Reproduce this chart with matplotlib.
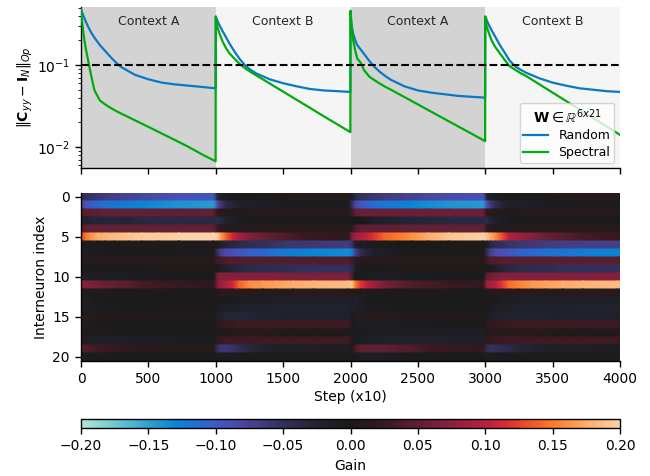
import numpy as np
import matplotlib
matplotlib.use('Agg')
import matplotlib.pyplot as plt
from matplotlib.colors import LinearSegmentedColormap

# line samples, offsets in steps from the start of each context
line_offsets = [0, 10, 20, 35, 50, 75, 100, 140, 180, 220, 260, 300, 400, 500, 600, 700, 800, 900, 999]
random_vals = [
    [.48, .43, .39, .34, .30, .25, .215, .175, .148, .125, .107, .094, .076, .067, .061, .058, .056, .054, .052],
    [.39, .355, .325, .29, .26, .22, .185, .145, .117, .098, .087, .079, .067, .060, .055, .051, .049, .048, .047],
    [.38, .29, .24, .20, .175, .155, .137, .112, .094, .082, .073, .066, .055, .049, .046, .044, .042, .041, .040],
    [.39, .355, .325, .29, .26, .22, .185, .145, .114, .097, .088, .081, .069, .061, .056, .052, .050, .048, .047],
]
spectral_vals = [
    [.45, .32, .23, .16, .12, .075, .049, .037, .033, .030, .0275, .0255, .0212, .0176, .0146, .0121, .0100, .0081, .0067],
    [.39, .30, .265, .225, .195, .162, .14, .119, .102, .091, .082, .075, .0596, .0474, .0377, .030, .0238, .019, .0152],
    [.46, .28, .20, .15, .12, .107, .087, .072, .065, .059, .054, .050, .0407, .0331, .0269, .0219, .0178, .0145, .0118],
    [.39, .30, .265, .225, .195, .165, .145, .118, .097, .088, .080, .074, .0584, .0461, .0364, .0287, .0227, .0179, .0141],
]

context_names = ['Context A', 'Context B', 'Context A', 'Context B']
context_starts = [0, 1000, 2000, 3000]
context_len = 1000

# gain per interneuron (rows) at these offsets inside each context (columns)
gain_offsets = [12, 37, 75, 125, 175, 250, 350, 450, 575, 725, 985]
gains_a1 = [
    [-.045, -.05, -.055, -.06, -.065, -.07, -.075, -.08, -.085, -.09, -.095],
    [-.08, -.09, -.10, -.11, -.115, -.12, -.125, -.13, -.135, -.14, -.145],
    [.04, .045, .045, .05, .05, .05, .05, .05, .05, .05, .05],
    [-.025, -.025, -.03, -.03, -.03, -.03, -.03, -.035, -.035, -.035, -.035],
    [.045, .05, .05, .05, .05, .05, .05, .05, .05, .05, .05],
    [.13, .15, .165, .175, .18, .185, .19, .195, .195, .2, .2],
    [.005, .005, .005, .005, .005, .005, .005, .005, .005, .005, .005],
    [-.01, -.01, -.01, -.008, -.005, 0, 0, .002, .003, .004, .005],
    [.01, .012, .012, .012, .012, .012, .012, .01, .01, .01, .01],
    [-.005, -.005, -.004, -.003, -.002, 0, .002, .004, .006, .008, .008],
    [-.012, -.012, -.012, -.012, -.01, -.01, -.01, -.008, -.005, -.002, 0],
    [.075, .07, .065, .06, .055, .05, .045, .035, .03, .025, .02],
    [.005, .005, .005, .005, .004, .004, .004, .003, .003, .003, .003],
    [-.015, -.012, -.01, -.006, -.005, -.004, -.003, -.002, -.002, -.002, -.002],
    [-.01, -.01, -.01, -.008, -.006, -.005, -.004, -.003, -.002, -.002, -.002],
    [.012, .012, .01, .01, .008, .008, .006, .006, .005, .005, .005],
    [-.012, -.01, -.006, -.004, -.003, -.002, -.002, -.002, -.002, -.002, -.002],
    [.005, .005, .005, .004, .004, .004, .003, .003, .003, .003, .003],
    [-.008, -.01, -.015, -.018, -.02, -.018, -.015, -.012, -.012, -.01, -.008],
    [.04, .04, .035, .03, .03, .025, .02, .015, .012, .01, .01],
    [-.01, -.01, -.008, -.006, -.005, -.004, -.003, -.003, -.002, -.002, -.002],
]
gains_b1 = [
    [-.03, -.015, -.008, -.004, -.002, .002, .004, .006, .008, .01, .012],
    [-.085, -.06, -.04, -.03, -.022, -.016, -.012, -.01, -.008, -.006, -.005],
    [.02, .015, .01, .008, .008, .01, .012, .012, .012, .012, .012],
    [-.04, -.035, -.025, -.015, -.008, -.003, 0, .002, .003, .003, .003],
    [.03, .02, .012, .01, .01, .01, .012, .012, .012, .012, .012],
    [.195, .17, .14, .11, .09, .07, .055, .045, .035, .025, .018],
    [-.01, -.02, -.03, -.035, -.04, -.045, -.05, -.055, -.06, -.062, -.065],
    [-.05, -.07, -.085, -.09, -.095, -.105, -.11, -.12, -.125, -.13, -.135],
    [.03, .035, .04, .04, .04, .04, .04, .04, .04, .04, .04],
    [-.005, -.015, -.025, -.03, -.035, -.04, -.042, -.045, -.048, -.05, -.05],
    [.06, .07, .07, .07, .07, .07, .07, .07, .065, .065, .065],
    [.065, .085, .095, .11, .14, .16, .165, .17, .175, .18, .185],
    [.01, .01, .012, .012, .012, .012, .01, .01, .01, .012, .012],
    [.005, .004, 0, -.005, -.01, -.012, -.012, -.015, -.015, -.015, -.018],
    [-.01, -.012, -.015, -.018, -.02, -.022, -.022, -.025, -.025, -.025, -.025],
    [-.02, -.025, -.03, -.03, -.03, -.03, -.025, -.025, -.022, -.02, -.02],
    [.015, .02, .025, .028, .03, .03, .03, .03, .03, .03, .03],
    [.005, .006, .008, .01, .012, .012, .01, .008, .006, .006, .005],
    [.02, .025, .03, .03, .03, .03, .03, .03, .03, .03, .03],
    [-.05, -.06, -.06, -.055, -.045, -.035, -.025, -.018, -.014, -.012, -.01],
    [-.005, -.005, -.006, -.006, -.006, -.006, -.005, -.005, -.005, -.005, -.005],
]
gains_a2 = [
    [-.015, -.04, -.05, -.055, -.06, -.065, -.07, -.075, -.08, -.085, -.09],
    [-.05, -.08, -.095, -.105, -.115, -.12, -.125, -.13, -.135, -.14, -.145],
    [.03, .05, .055, .055, .055, .055, .055, .055, .055, .055, .055],
    [0, .002, -.003, -.008, -.015, -.022, -.028, -.03, -.032, -.035, -.035],
    [.02, .04, .05, .05, .05, .05, .05, .05, .05, .05, .05],
    [.07, .085, .095, .105, .12, .14, .15, .16, .175, .19, .2],
    [-.055, -.02, -.012, -.008, -.006, -.005, -.003, 0, .002, .003, .004],
    [-.125, -.07, -.045, -.03, -.02, -.012, -.008, -.004, 0, .002, .004],
    [.03, .02, .015, .012, .012, .012, .01, .01, .01, .01, .01],
    [-.04, -.015, -.005, 0, .003, .005, .006, .006, .006, .006, .006],
    [.04, .002, -.006, -.01, -.012, -.012, -.01, -.008, -.006, -.004, -.002],
    [.19, .15, .12, .10, .085, .065, .05, .04, .035, .028, .022],
    [.008, .006, .005, .005, .004, .004, .003, .003, .003, .003, .003],
    [-.018, -.025, -.012, -.006, -.004, -.003, -.002, -.002, -.002, -.002, -.002],
    [-.018, -.02, -.012, -.008, -.006, -.005, -.004, -.003, -.002, -.002, -.002],
    [-.005, .01, .012, .012, .012, .012, .01, .008, .006, .006, .006],
    [.004, -.008, -.01, -.012, -.012, -.012, -.01, -.008, -.006, -.004, -.003],
    [.005, -.005, -.008, -.01, -.012, -.012, -.012, -.012, -.012, -.012, -.012],
    [.008, -.008, -.012, -.014, -.016, -.018, -.02, -.02, -.02, -.018, -.016],
    [.01, .035, .05, .05, .05, .05, .045, .04, .03, .025, .02],
    [-.004, -.008, -.012, -.012, -.012, -.01, -.008, -.006, -.005, -.004, -.004],
]
gains_b2 = [
    [-.03, -.015, -.008, -.004, -.002, .002, .004, .006, .008, .012, .014],
    [-.09, -.065, -.045, -.03, -.022, -.016, -.012, -.01, -.008, -.006, -.005],
    [.02, .012, .008, .008, .008, .01, .012, .012, .012, .012, .012],
    [-.04, -.03, -.02, -.012, -.006, -.002, 0, .002, .003, .003, .003],
    [.025, .015, .012, .01, .01, .01, .012, .012, .012, .012, .012],
    [.19, .175, .16, .13, .10, .085, .07, .055, .045, .035, .025],
    [-.015, -.035, -.045, -.05, -.055, -.06, -.062, -.065, -.068, -.07, -.07],
    [-.045, -.07, -.085, -.09, -.095, -.105, -.11, -.115, -.12, -.125, -.13],
    [.03, .04, .04, .045, .045, .045, .045, .045, .045, .045, .045],
    [.002, -.008, -.02, -.03, -.035, -.04, -.042, -.045, -.048, -.05, -.05],
    [.05, .06, .065, .07, .07, .07, .07, .07, .07, .07, .07],
    [.085, .09, .10, .12, .145, .155, .165, .17, .175, .18, .185],
    [.01, .008, .008, .01, .012, .012, .012, .012, .012, .012, .012],
    [.008, .002, -.005, -.01, -.012, -.014, -.015, -.015, -.016, -.016, -.016],
    [-.004, -.008, -.012, -.015, -.018, -.02, -.02, -.022, -.022, -.025, -.025],
    [-.01, -.018, -.022, -.025, -.025, -.025, -.025, -.025, -.022, -.02, -.02],
    [.015, .02, .022, .025, .028, .03, .03, .03, .03, .03, .03],
    [.008, .01, .012, .012, .012, .012, .01, .008, .006, .005, .005],
    [.018, .022, .025, .028, .03, .03, .03, .03, .03, .03, .03],
    [-.045, -.05, -.05, -.045, -.04, -.03, -.025, -.018, -.014, -.012, -.01],
    [-.006, -.006, -.006, -.006, -.006, -.006, -.006, -.006, -.006, -.006, -.006],
]
row_ticks = [0, 5, 10, 15, 20]
step_ticks = [0, 500, 1000, 1500, 2000, 2500, 3000, 3500, 4000]
gain_ticks = [-.2, -.15, -.1, -.05, 0, .05, .1, .15, .2]
gain_labels = ['\u22120.20', '\u22120.15', '\u22120.10', '\u22120.05', '0.00', '0.05', '0.10', '0.15', '0.20']

# colour bar, gain value -> colour
cmap_gains = [-.2, -.175, -.15, -.13, -.11, -.09, -.07, -.05, -.025, 0,
              .025, .05, .075, .1, .115, .13, .15, .175, .2]
cmap_colors = ['#b0e8d8', '#70c8d0', '#30a0d0', '#0a84d6', '#2a68d0', '#4a50b8', '#453f88', '#33305c', '#22222e', '#1a1a1a',
               '#35191f', '#601f33', '#8a2040', '#b81f3e', '#d82a35', '#ec4d2a', '#fb7a28', '#fdab68', '#fdd2a8']

BLUE = '#0a78c2'
GREEN = '#00ab0c'

plt.rcParams['axes.linewidth'] = 1.0
plt.rcParams['xtick.major.size'] = 4.5
plt.rcParams['ytick.major.size'] = 4.5
plt.rcParams['xtick.major.width'] = 1.0
plt.rcParams['ytick.major.width'] = 1.0

fig = plt.figure(figsize=(6.5, 4.76), dpi=100)
W, H = 650, 476


def px_axes(left, top, right, bottom):
    return fig.add_axes([left / W, 1 - bottom / H, (right - left) / W, (bottom - top) / H])


ax_top = px_axes(81, 7, 620, 168)
ax_map = px_axes(81, 193, 620, 361)
ax_bar = px_axes(81, 419, 620, 428)

# top panel
for name, start in zip(context_names, context_starts):
    shade = 'lightgray' if name == 'Context A' else 'whitesmoke'
    ax_top.axvspan(start, start + context_len, color=shade, lw=0, zorder=0)
    ax_top.text(start + context_len / 2, 0.335, name, ha='center', va='center', fontsize=9, color='#262626')

steps = np.concatenate([np.array(line_offsets) + s for s in context_starts])
ax_top.plot(steps, np.concatenate(random_vals), color=BLUE, lw=1.6, label='Random', zorder=3)
ax_top.plot(steps, np.concatenate(spectral_vals), color=GREEN, lw=1.6, label='Spectral', zorder=3)
ax_top.axhline(0.1, color='k', ls='--', lw=1.5, zorder=4)
ax_top.set_yscale('log')
ax_top.set_xlim(0, 4000)
ax_top.set_ylim(0.00555, 0.51)
ax_top.set_xticks(step_ticks)
ax_top.set_xticklabels([])
ax_top.set_ylabel(r'$\|\mathbf{C}_{yy} - \mathbf{I}_N\|_{Op}$', fontsize=10, labelpad=1)
ax_top.tick_params(labelsize=10)
ax_top.spines[['top', 'right']].set_visible(False)
leg = ax_top.legend(title=r'$\mathbf{W} \in \mathbb{R}^{6x21}$', loc='lower right', fontsize=9,
                    title_fontsize=10, bbox_to_anchor=(0.989, 0.031), borderaxespad=0,
                    labelspacing=0.35, borderpad=0.3)
leg.set_zorder(5)

# gain map, two vertices per row keep the row edges sharp
gains = np.hstack([gains_a1, gains_b1, gains_a2, gains_b2])
gain_steps = np.concatenate([np.array(gain_offsets) + s for s in context_starts])
gain_steps = np.concatenate([[0], gain_steps, [4000]])
gains = np.hstack([gains[:, :1], gains, gains[:, -1:]])
rows = np.arange(gains.shape[0])
mesh_y = np.ravel(np.column_stack([rows - 0.5, rows + 0.5]))
mesh_x, mesh_y = np.meshgrid(gain_steps, mesh_y)
cmap_pos = (np.array(cmap_gains) + 0.2) / 0.4
cmap = LinearSegmentedColormap.from_list('gain', list(zip(cmap_pos, cmap_colors)), N=512)
mesh = ax_map.pcolormesh(mesh_x, mesh_y, np.repeat(gains, 2, axis=0), cmap=cmap, vmin=-0.2, vmax=0.2,
                         shading='gouraud', rasterized=True)
ax_map.set_ylim(20.5, -0.5)
ax_map.set_xlim(0, 4000)
ax_map.set_xticks(step_ticks)
ax_map.set_yticks(row_ticks)
ax_map.set_xlabel('Step (x10)', fontsize=10, labelpad=3)
ax_map.set_ylabel('Interneuron index', fontsize=10, labelpad=3)
ax_map.tick_params(labelsize=10)
ax_map.spines[['top', 'right']].set_visible(False)

cbar = fig.colorbar(mesh, cax=ax_bar, orientation='horizontal', ticks=gain_ticks)
cbar.ax.set_xticklabels(gain_labels)
cbar.ax.tick_params(labelsize=10)
cbar.set_label('Gain', fontsize=10, labelpad=4)

fig.savefig('out.png', dpi=100)
